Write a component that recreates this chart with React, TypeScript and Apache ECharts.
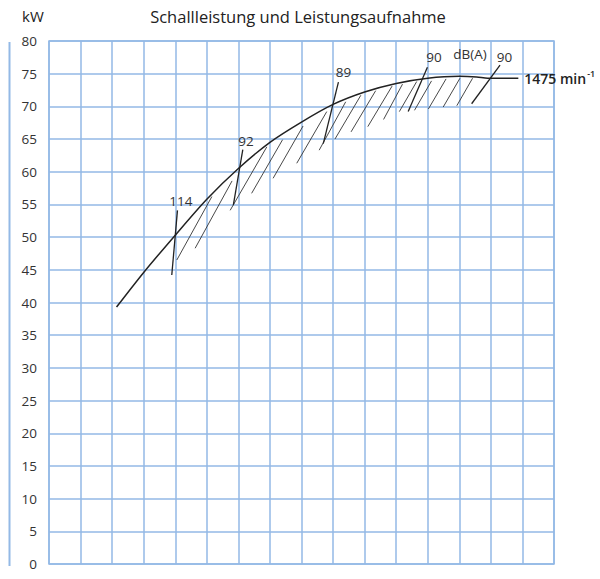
import * as React from "react";
import * as echarts from "echarts";

// Leistungskurve (kW) über 16 Rasterfelder, ohne x-Beschriftung.
const CURVE_X = [2.14, 3, 4, 5, 6, 7, 8, 9, 10, 11, 12, 13, 13.55, 13.9, 14.87];
const CURVE_KW = [39.3, 44.6, 50.3, 55.8, 60.5, 64.5, 67.6, 70.3, 72.2, 73.5, 74.3, 74.6, 74.5, 74.3, 74.3];
const SPEED_LABEL = "1475 min";
const SPEED_SUP = "-1";

// Schraffur unter der Kurve: [x unten, kW unten, x oben, kW oben]
const HATCH = [
  [4.05, 46.5, 5.16, 56.2],
  [4.63, 48.3, 5.8, 58.6],
  [5.74, 54.1, 6.9, 63.8],
  [6.42, 56.7, 7.4, 64.9],
  [7.1, 59.0, 8.05, 67.0],
  [7.85, 61.3, 8.8, 69.2],
  [8.56, 63.3, 9.4, 70.7],
  [9.06, 65.0, 9.88, 71.7],
  [9.57, 66.1, 10.35, 72.4],
  [10.1, 66.9, 10.87, 73.1],
  [10.6, 68.0, 11.2, 73.4],
  [11.1, 69.2, 11.65, 73.8],
  [11.58, 69.4, 12.12, 73.9],
  [12.02, 69.6, 12.58, 74.2],
  [12.49, 69.9, 13.02, 74.3],
  [12.92, 70.1, 13.42, 74.3],
];

// Schallleistungs-Marken (dB(A))
const MARK_LABELS = ["114", "92", "89", "90", "90"];
const MARK_LINES = [
  [3.89, 44.2, 4.07, 54.1],
  [5.84, 54.9, 6.14, 63.4],
  [8.69, 64.3, 9.17, 73.7],
  [11.38, 69.2, 11.99, 76.0],
  [13.39, 70.4, 14.29, 76.3],
];
const MARK_LABEL_POS = [
  [4.18, 55.6],
  [6.24, 64.7],
  [9.33, 75.3],
  [12.2, 77.6],
  [14.43, 77.6],
];
const UNIT_TEXT = "dB(A)";
const UNIT_POS = [13.34, 78.0];

const TITLE = "Schallleistung und Leistungsaufnahme";
const Y_NAME = "kW";

const GRID_BLUE = "#93b9e6";
const FONT = "'Open Sans', sans-serif";

export default function App() {
  const ref = React.useRef<HTMLDivElement | null>(null);

  React.useEffect(() => {
    if (!ref.current) return;
    const chart = echarts.init(ref.current, undefined, { renderer: "svg" });

    const markData = MARK_LINES.map((m, i) => [...m, MARK_LABEL_POS[i][0], MARK_LABEL_POS[i][1], i]);

    chart.setOption({
      animation: false,
      backgroundColor: "#fff",
      textStyle: { fontFamily: FONT },
      grid: {
        left: 49, right: 46, top: 41, bottom: 15,
        show: true, borderColor: GRID_BLUE, borderWidth: 1.5,
      },
      graphic: [
        {
          type: "text", x: 298, y: 16,
          style: { text: TITLE, fontSize: 16.5, fontFamily: FONT, fill: "#222", align: "center", verticalAlign: "middle" },
        },
        {
          type: "text", x: 22, y: 16,
          style: { text: Y_NAME, fontSize: 15, fontFamily: FONT, fill: "#222", align: "left", verticalAlign: "middle" },
        },
        {
          type: "line",
          shape: { x1: 9.5, y1: 42, x2: 9.5, y2: 566 },
          style: { stroke: GRID_BLUE, lineWidth: 2 },
        },
      ],
      xAxis: {
        type: "value", min: 0, max: 16, interval: 1,
        axisLabel: { show: false },
        axisTick: { show: false },
        axisLine: { show: false },
        splitLine: { show: true, lineStyle: { color: GRID_BLUE, width: 1.5 } },
      },
      yAxis: {
        type: "value", min: 0, max: 80, interval: 5,
        axisLabel: { color: "#333", fontSize: 13.5, margin: 12, fontFamily: FONT },
        axisTick: { show: false },
        axisLine: { show: false },
        splitLine: { show: true, lineStyle: { color: GRID_BLUE, width: 1.5 } },
      },
      series: [
        {
          type: "custom",
          data: HATCH,
          encode: { x: [0, 2], y: [1, 3] },
          renderItem: (_p: unknown, api: any) => {
            const a = api.coord([api.value(0), api.value(1)]);
            const b = api.coord([api.value(2), api.value(3)]);
            return {
              type: "line",
              shape: { x1: a[0], y1: a[1], x2: b[0], y2: b[1] },
              style: { stroke: "#333", lineWidth: 0.9 },
            };
          },
          silent: true,
          z: 2,
        },
        {
          type: "line",
          data: CURVE_X.map((x, i) => [x, CURVE_KW[i]]),
          smooth: 0.3,
          symbol: "none",
          lineStyle: { color: "#222", width: 1.5 },
          endLabel: {
            show: true,
            distance: 6,
            formatter: () => `{a|${SPEED_LABEL}}{s|${SPEED_SUP}}`,
            rich: {
              a: { fontSize: 14, fontWeight: 600, color: "#222", fontFamily: FONT, lineHeight: 18 },
              s: { fontSize: 9, fontWeight: 600, color: "#222", fontFamily: FONT, verticalAlign: "top", lineHeight: 18, padding: [0, 0, 10, 1] },
            },
          },
          z: 3,
        },
        {
          type: "custom",
          data: markData,
          encode: { x: [0, 2, 4], y: [1, 3, 5] },
          renderItem: (_p: unknown, api: any) => {
            const a = api.coord([api.value(0), api.value(1)]);
            const b = api.coord([api.value(2), api.value(3)]);
            const t = api.coord([api.value(4), api.value(5)]);
            return {
              type: "group",
              children: [
                {
                  type: "line",
                  shape: { x1: a[0], y1: a[1], x2: b[0], y2: b[1] },
                  style: { stroke: "#222", lineWidth: 1.3 },
                },
                {
                  type: "text", x: t[0], y: t[1],
                  style: {
                    text: MARK_LABELS[api.value(6)], fontSize: 13.5, fontFamily: FONT,
                    fill: "#333", align: "center", verticalAlign: "middle",
                  },
                },
              ],
            };
          },
          silent: true,
          z: 4,
        },
        {
          type: "custom",
          data: [UNIT_POS],
          encode: { x: 0, y: 1 },
          renderItem: (_p: unknown, api: any) => {
            const t = api.coord([api.value(0), api.value(1)]);
            return {
              type: "text", x: t[0], y: t[1],
              style: { text: UNIT_TEXT, fontSize: 13.5, fontFamily: FONT, fill: "#333", align: "center", verticalAlign: "middle" },
            };
          },
          silent: true,
          z: 4,
        },
      ],
    });

    return () => chart.dispose();
  }, []);

  return <div ref={ref} style={{ position: "fixed", left: 0, top: 0, width: 600, height: 579 }} />;
}
